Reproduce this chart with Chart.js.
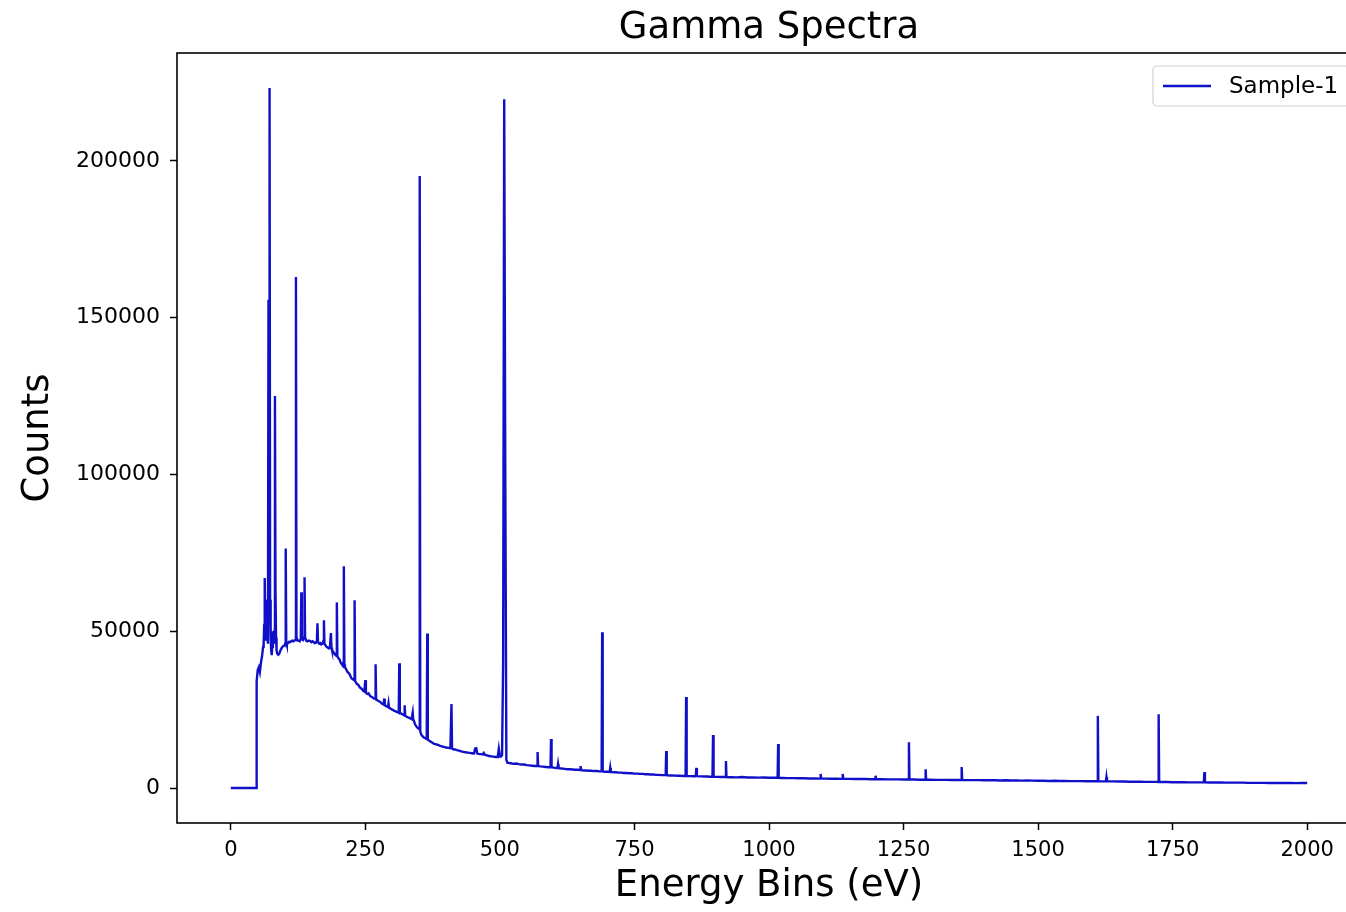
<!DOCTYPE html>
<html>
<head>
<meta charset="utf-8">
<title>Gamma Spectra</title>
<script src="https://cdn.jsdelivr.net/npm/chart.js@4.4.0/dist/chart.umd.min.js"></script>
<style>
    html, body { margin: 0; padding: 0; overflow: hidden; background: #fff; }
    #wrap { width: 1420px; height: 912px; }
</style>
</head>
<body>
<div id="wrap"><canvas id="spectrumChart"></canvas></div>
<script>
// Energy bin positions (eV) and counts, 10 per row
const energyBins = [
    0, 10, 20, 30, 40, 47, 48, 50, 52, 54,
    56, 58, 60, 61, 62, 63, 64, 65, 66, 67,
    68, 69, 70, 71, 72, 73, 74, 75, 76, 77,
    78, 79, 80, 81, 82, 83, 84, 85, 86, 88,
    90, 92, 94, 96, 98, 100, 101, 102, 103, 104,
    106, 108, 110, 112, 114, 116, 118, 120, 121, 122,
    124, 126, 128, 130, 131, 132, 134, 136, 137, 138,
    140, 142, 144, 146, 148, 150, 152, 154, 156, 158,
    160, 161, 162, 164, 166, 168, 170, 172, 173, 174,
    176, 178, 180, 182, 184, 186, 187, 188, 190, 192,
    194, 196, 197, 198, 200, 202, 204, 206, 208, 209,
    210, 211, 212, 214, 216, 218, 220, 222, 224, 226,
    228, 229, 230, 231, 232, 234, 236, 238, 240, 242,
    244, 246, 248, 249, 250, 251, 252, 254, 256, 258,
    260, 262, 264, 266, 268, 269, 270, 272, 274, 276,
    278, 280, 282, 284, 285, 286, 288, 290, 292, 293,
    294, 296, 298, 300, 302, 304, 306, 308, 310, 312,
    313, 314, 316, 318, 320, 322, 323, 324, 326, 328,
    330, 332, 334, 336, 338, 339, 340, 342, 344, 346,
    348, 350, 351, 352, 354, 356, 358, 360, 362, 364,
    365, 366, 368, 370, 372, 374, 376, 378, 380, 384,
    388, 392, 396, 400, 404, 408, 410, 411, 412, 416,
    420, 424, 428, 432, 436, 440, 444, 448, 452, 454,
    456, 458, 460, 464, 468, 470, 472, 476, 480, 484,
    488, 492, 496, 498, 500, 502, 504, 506, 508, 510,
    512, 514, 516, 520, 525, 530, 535, 540, 545, 550,
    555, 560, 565, 569, 570, 571, 575, 580, 585, 590,
    594, 595, 596, 600, 605, 607, 608, 609, 615, 620,
    625, 630, 635, 640, 645, 649, 650, 651, 657, 660,
    665, 670, 675, 680, 685, 689, 690, 691, 695, 700,
    704, 705, 706, 712, 716, 720, 725, 730, 735, 740,
    745, 750, 755, 760, 765, 770, 775, 780, 785, 790,
    795, 800, 805, 808, 809, 810, 815, 820, 825, 830,
    835, 840, 845, 846, 847, 850, 855, 860, 864, 865,
    866, 870, 875, 880, 885, 890, 895, 896, 897, 900,
    905, 910, 915, 919, 920, 921, 925, 930, 940, 950,
    960, 970, 980, 990, 1000, 1010, 1016, 1017, 1018, 1025,
    1035, 1045, 1055, 1065, 1075, 1085, 1095, 1096, 1097, 1105,
    1115, 1125, 1136, 1137, 1138, 1150, 1160, 1170, 1180, 1190,
    1197, 1198, 1199, 1210, 1220, 1230, 1240, 1250, 1259, 1260,
    1261, 1270, 1280, 1290, 1291, 1292, 1300, 1310, 1320, 1330,
    1340, 1350, 1357, 1358, 1359, 1370, 1380, 1390, 1400, 1410,
    1420, 1430, 1440, 1450, 1460, 1470, 1480, 1490, 1500, 1510,
    1520, 1530, 1540, 1550, 1560, 1570, 1580, 1590, 1600, 1610,
    1611, 1612, 1620, 1626, 1627, 1628, 1640, 1650, 1660, 1670,
    1680, 1690, 1700, 1710, 1720, 1723, 1724, 1725, 1730, 1740,
    1750, 1760, 1770, 1780, 1790, 1800, 1808, 1809, 1810, 1820,
    1830, 1840, 1850, 1860, 1870, 1880, 1890, 1900, 1910, 1920,
    1930, 1940, 1950, 1960, 1970, 1980, 1990, 2000
];

const counts = [
    0, 0, 0, 0, 0, 0, 34000, 37600, 38500, 37000,
    40000, 42000, 45000, 46000, 52000, 67000, 50000, 47000, 55000, 60000,
    48000, 46000, 155700, 70000, 223250, 60000, 48000, 44000, 42400, 45000,
    50000, 48000, 46000, 50000, 125000, 63700, 48000, 44000, 43000, 42500,
    42800, 43800, 44500, 45000, 45300, 45500, 46000, 76400, 46500, 45800,
    46200, 46600, 46500, 46800, 47000, 46800, 47000, 47200, 163000, 48000,
    47000, 47000, 46800, 47500, 62400, 47500, 47200, 48000, 67200, 48000,
    47000, 46800, 47000, 47000, 46800, 46500, 46800, 46500, 46200, 46300,
    47000, 52500, 46500, 46000, 46200, 45800, 46000, 47000, 53500, 46000,
    45500, 45000, 44800, 44500, 44600, 49400, 44800, 44000, 43500, 43000,
    42500, 42200, 59200, 42000, 41400, 41000, 40000, 39500, 39000, 40000,
    70700, 39500, 38500, 38000, 37200, 36800, 36500, 35800, 35000, 34800,
    34500, 34500, 59900, 34000, 33800, 33200, 33000, 32600, 32000, 31800,
    31500, 31000, 30800, 30800, 34400, 30500, 30200, 30000, 30200, 29600,
    29200, 29000, 28800, 28500, 28500, 39500, 28200, 28000, 27800, 27600,
    27400, 27000, 26800, 26600, 28500, 26400, 26200, 26000, 25800, 27000,
    25600, 25400, 25200, 25000, 24800, 24600, 24500, 24300, 24200, 24000,
    39800, 24000, 23800, 23600, 23400, 23200, 26400, 23000, 22800, 22600,
    22500, 22300, 22200, 22000, 24000, 21800, 21500, 20500, 19800, 19400,
    19000, 18800, 195200, 18000, 17000, 16600, 16200, 16000, 15800, 15600,
    49300, 15500, 15200, 14900, 14700, 14500, 14300, 14100, 14000, 13800,
    13500, 13300, 13100, 12900, 12800, 12700, 26800, 12600, 12500, 12300,
    12100, 11900, 11700, 11500, 11400, 11300, 11200, 11100, 11000, 12600,
    12700, 11000, 10900, 10800, 10700, 11200, 10600, 10400, 10200, 10100,
    10000, 9900, 9900, 12500, 10000, 10000, 10500, 40000, 219700, 100000,
    9000, 8000, 8000, 7900, 7700, 7800, 7600, 7500, 7500, 7300,
    7200, 7100, 7000, 7000, 11500, 7000, 6900, 6800, 6700, 6600,
    6600, 15600, 6600, 6500, 6400, 6400, 7600, 6300, 6200, 6100,
    6000, 6000, 5900, 5800, 5800, 5700, 7000, 5700, 5600, 5600,
    5500, 5500, 5400, 5400, 5300, 5300, 49700, 5300, 5200, 5200,
    5100, 6400, 5100, 5000, 5000, 4900, 4900, 4800, 4800, 4700,
    4700, 4600, 4600, 4500, 4500, 4400, 4400, 4300, 4300, 4200,
    4200, 4100, 4100, 4100, 11800, 4100, 4000, 4000, 3950, 3900,
    3900, 3850, 3850, 29000, 3850, 3800, 3800, 3750, 3800, 6400,
    3800, 3700, 3700, 3650, 3650, 3600, 3600, 16900, 3600, 3550,
    3550, 3500, 3500, 3500, 8600, 3500, 3450, 3450, 3400, 3500,
    3350, 3400, 3300, 3350, 3250, 3300, 3250, 14000, 3250, 3200,
    3150, 3150, 3100, 3100, 3050, 3050, 3000, 4500, 3000, 3000,
    2950, 2950, 2900, 4500, 2900, 2900, 2850, 2850, 2850, 2800,
    2800, 3900, 2800, 2800, 2750, 2750, 2750, 2700, 2700, 14600,
    2700, 2700, 2650, 2650, 6000, 2650, 2650, 2600, 2600, 2600,
    2550, 2550, 2550, 6700, 2550, 2500, 2500, 2500, 2450, 2500,
    2450, 2400, 2450, 2400, 2400, 2350, 2400, 2350, 2300, 2300,
    2250, 2300, 2250, 2250, 2200, 2200, 2200, 2150, 2150, 2150,
    23000, 2150, 2100, 2100, 3500, 2100, 2100, 2050, 2050, 2000,
    2000, 2000, 1950, 1950, 1950, 1900, 23500, 1900, 1900, 1900,
    1850, 1850, 1850, 1800, 1800, 1800, 1800, 5100, 1800, 1750,
    1750, 1750, 1700, 1700, 1700, 1700, 1650, 1650, 1650, 1650,
    1600, 1600, 1600, 1600, 1600, 1550, 1600, 1600
];

const xTicks = [0, 250, 500, 750, 1000, 1250, 1500, 1750, 2000];
const yTicks = [0, 50000, 100000, 150000, 200000];

const FONT = "'DejaVu Sans', sans-serif";
const LINE_COLOR = '#1010c8';

// matplotlib-like 5% margins around the data
const xMin = Math.min(...energyBins), xMax = Math.max(...energyBins);
const yMin = Math.min(...counts), yMax = Math.max(...counts);
const xPad = (xMax - xMin) * 0.05, yPad = (yMax - yMin) * 0.05;

// frame + legend box drawn inside the axes, the way matplotlib does
const framePlugin = {
    id: 'frameAndLegend',
    afterDraw(chart) {
        const { ctx, chartArea: a } = chart;
        ctx.save();
        ctx.strokeStyle = '#000';
        ctx.lineWidth = 1.6;
        ctx.strokeRect(a.left, a.top, a.right - a.left, a.bottom - a.top);

        const ds = chart.data.datasets[0];
        const boxW = 196, boxH = 40;
        const bx = a.right - 12 - boxW, by = a.top + 13;
        ctx.beginPath();
        ctx.roundRect(bx, by, boxW, boxH, 4);
        ctx.fillStyle = 'rgba(255,255,255,0.8)';
        ctx.fill();
        ctx.strokeStyle = '#d0d0d0';
        ctx.lineWidth = 1.2;
        ctx.stroke();

        ctx.beginPath();
        ctx.moveTo(bx + 10, by + boxH / 2);
        ctx.lineTo(bx + 58, by + boxH / 2);
        ctx.strokeStyle = ds.borderColor;
        ctx.lineWidth = 2.4;
        ctx.stroke();

        ctx.fillStyle = '#000';
        ctx.font = '23px ' + FONT;
        ctx.textBaseline = 'middle';
        ctx.fillText(ds.label, bx + 76, by + boxH / 2 + 1);
        ctx.restore();
    }
};

const ctx = document.getElementById('spectrumChart').getContext('2d');

const spectrumChart = new Chart(ctx, {
    type: 'line',
    data: {
        datasets: [{
            label: 'Sample-1',
            data: energyBins.map((e, i) => ({ x: e, y: counts[i] })),
            borderColor: LINE_COLOR,
            borderWidth: 2.4,
            pointRadius: 0,
            tension: 0,
            fill: false
        }]
    },
    options: {
        responsive: true,
        maintainAspectRatio: false,
        animation: false,
        layout: { padding: { left: 0, right: 59, top: 0, bottom: 0 } },
        plugins: {
            legend: { display: false },
            tooltip: { enabled: false },
            title: {
                display: true,
                text: 'Gamma Spectra',
                fullSize: false,
                color: '#000',
                font: { family: FONT, size: 37, weight: 'normal', lineHeight: 1.2 },
                padding: { top: 6, bottom: 2.6 }
            }
        },
        scales: {
            x: {
                type: 'linear',
                min: xMin - xPad,
                max: xMax + xPad,
                afterBuildTicks: axis => { axis.ticks = xTicks.map(v => ({ value: v })); },
                afterFit: axis => { axis.height = 89; },
                grid: { drawOnChartArea: false, drawTicks: true, tickLength: 7, tickColor: '#000', tickWidth: 1.5 },
                border: { display: false },
                ticks: {
                    color: '#000',
                    padding: 8,
                    maxRotation: 0,
                    font: { family: FONT, size: 21 },
                    callback: v => String(v)
                },
                title: {
                    display: true,
                    text: 'Energy Bins (eV)',
                    color: '#000',
                    font: { family: FONT, size: 37, lineHeight: 1.2 },
                    padding: { top: 0, bottom: 3.8 }
                }
            },
            y: {
                min: yMin - yPad,
                max: yMax + yPad,
                afterBuildTicks: axis => { axis.ticks = yTicks.map(v => ({ value: v })); },
                afterFit: axis => { axis.width = 177; },
                grid: { drawOnChartArea: false, drawTicks: true, tickLength: 7, tickColor: '#000', tickWidth: 1.5 },
                border: { display: false },
                ticks: {
                    color: '#000',
                    padding: 10,
                    font: { family: FONT, size: 22 },
                    callback: v => String(v)
                },
                title: {
                    display: true,
                    text: 'Counts',
                    color: '#000',
                    font: { family: FONT, size: 37, lineHeight: 1.2 },
                    padding: { top: 16, bottom: 0 }
                }
            }
        }
    },
    plugins: [framePlugin]
});
</script>
</body>
</html>
